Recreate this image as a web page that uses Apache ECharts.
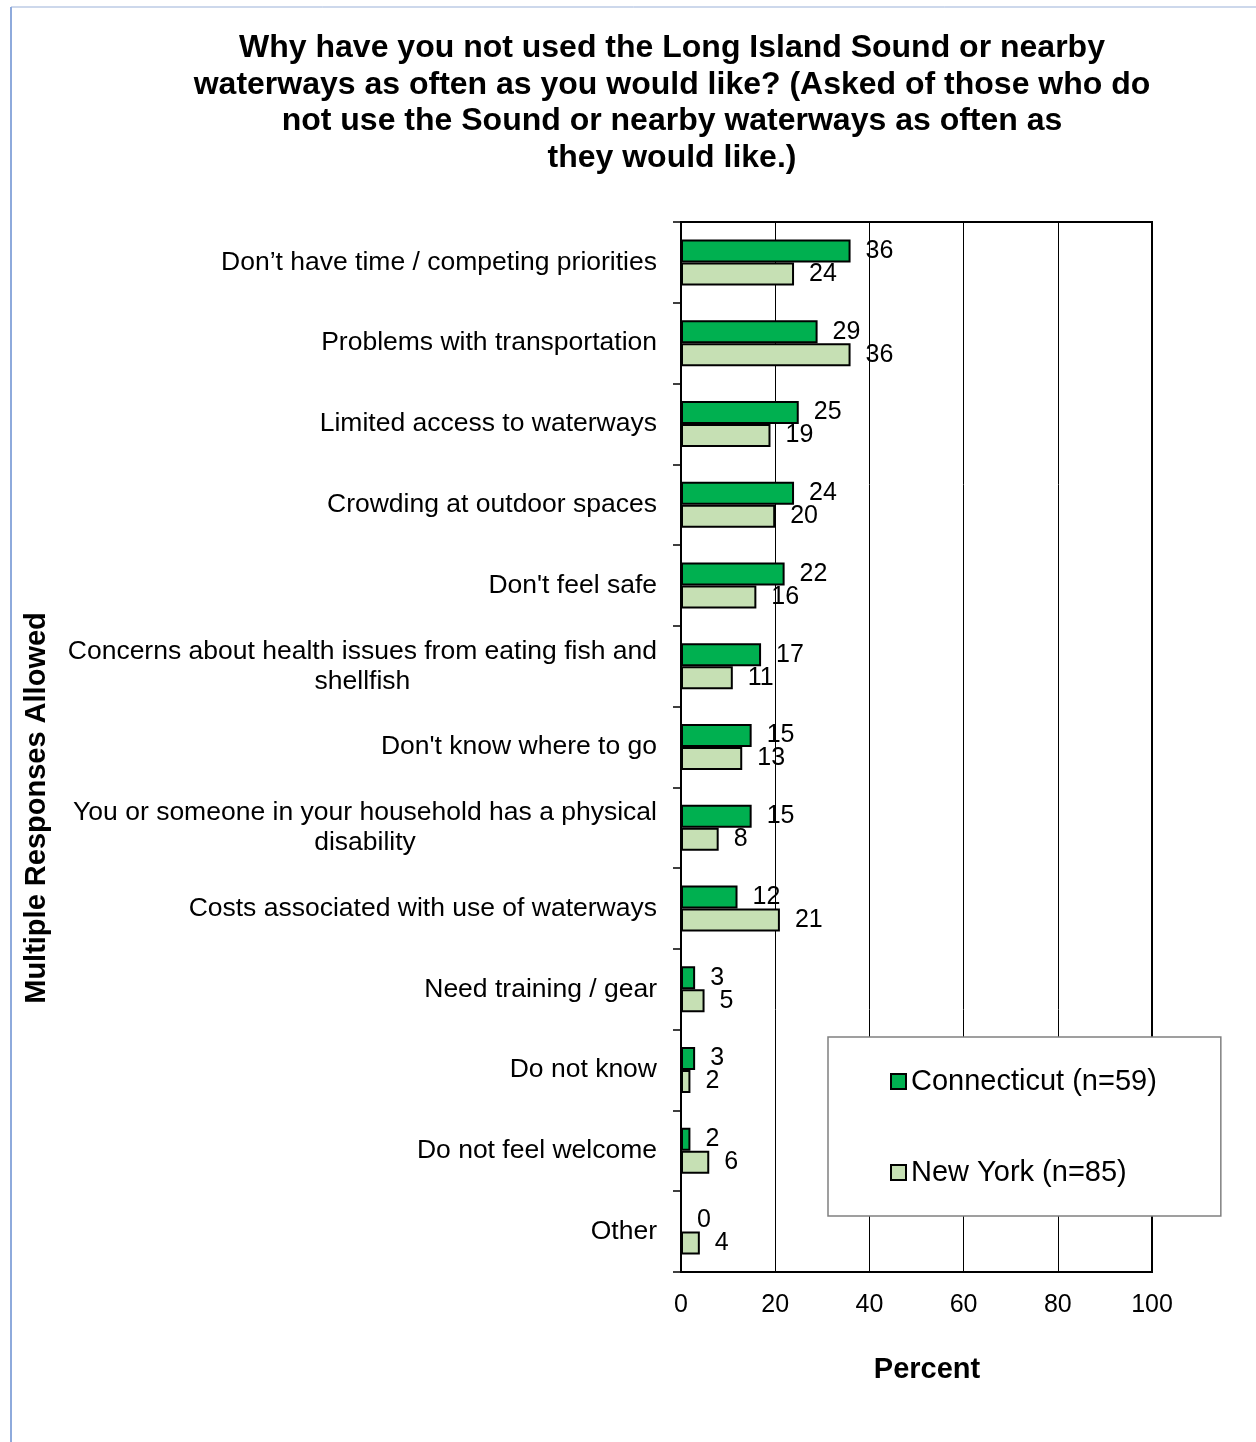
<!DOCTYPE html>
<html>
<head>
<meta charset="utf-8">
<script src="https://cdn.jsdelivr.net/npm/echarts@6/dist/echarts.min.js"></script>
<style>
html,body{margin:0;padding:0;background:#fff;}
#chart{width:1256px;height:1442px;}
</style>
</head>
<body>
<div id="chart"></div>
<script>
var categories = [
  "Don\u2019t have time / competing priorities",
  "Problems with transportation",
  "Limited access to waterways",
  "Crowding at outdoor spaces",
  "Don't feel safe",
  "Concerns about health issues from eating fish and\nshellfish",
  "Don't know where to go",
  "You or someone in your household has a physical\ndisability",
  "Costs associated with use of waterways",
  "Need training / gear",
  "Do not know",
  "Do not feel welcome",
  "Other"
];
var connecticut = [36, 29, 25, 24, 22, 17, 15, 15, 12, 3, 3, 2, 0];
var newYork = [24, 36, 19, 20, 16, 11, 13, 8, 21, 5, 2, 6, 4];
var xTicks = [0, 20, 40, 60, 80, 100];
var seriesNames = ["Connecticut (n=59)", "New York (n=85)"];

var FONT = "Liberation Sans, Arial, sans-serif";
var chart = echarts.init(document.getElementById('chart'), null, {renderer: 'canvas'});

function labelFormatter(v) {
  return v.split('\n').map(function (s) { return '{c|' + s + '}'; }).join('\n');
}

var labelStyle = {
  show: true, position: 'right', distance: 15,
  fontFamily: FONT, fontSize: 25, color: '#000'
};

chart.setOption({
  animation: false,
  backgroundColor: '#fff',
  title: {
    text: "Why have you not used the Long Island Sound or nearby\nwaterways as often as you would like? (Asked of those who do\nnot use the Sound or nearby waterways as often as\nthey would like.)",
    left: 667, top: 25, textAlign: 'center',
    textStyle: {fontFamily: FONT, fontSize: 32, fontWeight: 'bold', color: '#000', lineHeight: 36.5}
  },
  legend: {
    orient: 'vertical',
    left: 828, top: 1037,
    padding: [30, 64, 29, 62],
    itemGap: 62,
    itemWidth: 15, itemHeight: 15,
    icon: 'rect',
    backgroundColor: '#fff',
    borderColor: '#808080', borderWidth: 1.5,
    textStyle: {fontFamily: FONT, fontSize: 29, color: '#000'},
    data: seriesNames
  },
  grid: {
    left: 681, right: 104, top: 222, bottom: 170,
    show: true, borderColor: '#000', borderWidth: 2,
    containLabel: false
  },
  xAxis: {
    type: 'value', min: xTicks[0], max: xTicks[xTicks.length - 1], interval: 20,
    axisLine: {show: true, lineStyle: {color: '#000', width: 2}},
    axisTick: {show: false},
    splitLine: {show: true, lineStyle: {color: '#000', width: 1}},
    axisLabel: {fontFamily: FONT, fontSize: 25, color: '#000', margin: 21},
    name: 'Percent', nameLocation: 'middle', nameGap: 83,
    nameTextStyle: {fontFamily: FONT, fontSize: 29, fontWeight: 'bold', color: '#000', padding: [0, 0, 0, 21]}
  },
  yAxis: {
    type: 'category', data: categories, inverse: true,
    axisLine: {show: true, lineStyle: {color: '#000', width: 2}},
    axisTick: {show: true, length: 8, lineStyle: {color: '#000', width: 1.5}},
    axisLabel: {
      fontFamily: FONT, fontSize: 26.5, color: '#000', margin: 24, lineHeight: 30,
      formatter: labelFormatter,
      rich: {c: {fontFamily: FONT, fontSize: 26.5, color: '#000', align: 'center', lineHeight: 30}}
    },
    splitLine: {show: false}
  },
  graphic: [
    {type: 'line', shape: {x1: 11, y1: 7, x2: 1256, y2: 7}, style: {stroke: '#9bb1d8', lineWidth: 1}, silent: true},
    {type: 'line', shape: {x1: 11, y1: 7, x2: 11, y2: 1442}, style: {stroke: '#8eaadc', lineWidth: 2}, silent: true},
    {type: 'text', x: 37, y: 808, rotation: Math.PI / 2,
     style: {text: 'Multiple Responses Allowed', fontFamily: FONT, fontSize: 29, fontWeight: 'bold', fill: '#000', align: 'center', verticalAlign: 'middle'}}
  ],
  series: [
    {
      name: seriesNames[0], type: 'bar', data: connecticut, barWidth: 23, barGap: '0%',
      itemStyle: {color: '#00b050', borderColor: '#000', borderWidth: 2},
      label: labelStyle
    },
    {
      name: seriesNames[1], type: 'bar', data: newYork, barWidth: 23,
      itemStyle: {color: '#c6e0b4', borderColor: '#000', borderWidth: 2},
      label: labelStyle
    }
  ]
});
</script>
</body>
</html>
